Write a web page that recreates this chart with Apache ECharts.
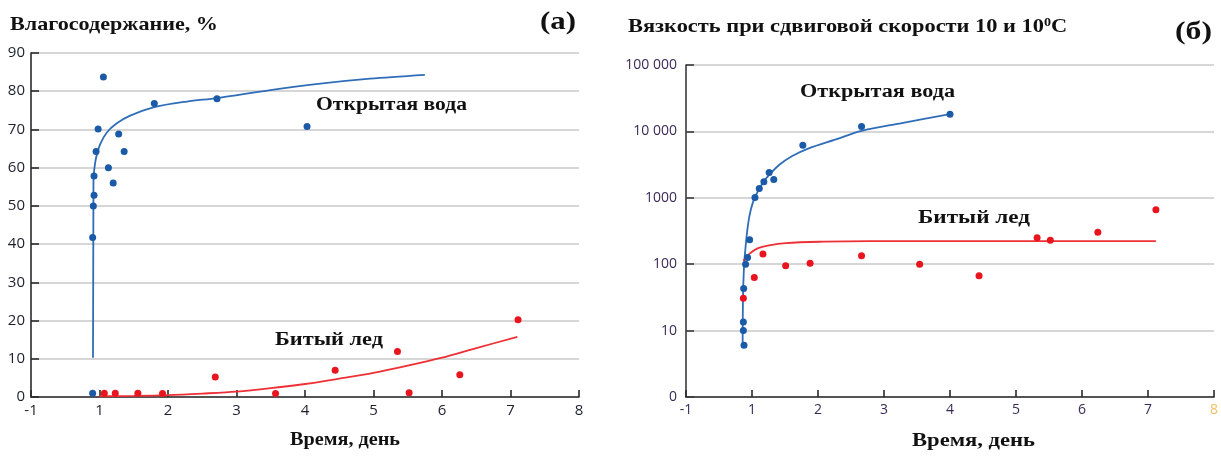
<!DOCTYPE html>
<html>
<head>
<meta charset="utf-8">
<script src="https://cdn.jsdelivr.net/npm/echarts@6/dist/echarts.min.js"></script>
<style>
  html, body { margin: 0; padding: 0; background: #fff; }
  #chart { width: 1221px; height: 456px; }
</style>
</head>
<body>
<div id="chart"></div>
<script>
// Panel (а): moisture content, %, versus time, days
const waterMoisture = [
  [0.90, 1.0], [0.90, 41.7], [0.91, 50.0], [0.92, 52.8], [0.92, 57.8], [0.95, 64.2],
  [0.98, 70.1], [1.057, 83.7], [1.13, 60.0], [1.20, 56.0], [1.28, 68.8], [1.36, 64.2],
  [1.80, 76.8], [2.715, 78.0], [4.03, 70.8]
];
const iceMoisture = [
  [1.07, 1.0], [1.23, 1.0], [1.56, 1.0], [1.92, 0.9], [2.69, 5.2], [3.57, 0.9],
  [4.44, 7.0], [5.35, 11.9], [5.52, 1.1], [6.26, 5.8], [7.11, 20.2]
];
const waterMoistureTrend = [
  [0.905, 10.3], [0.908, 30], [0.911, 50], [0.912, 56.5], [0.921, 59.1], [0.950, 62.6],
  [1.009, 66.1], [1.107, 69.2], [1.253, 71.6], [1.447, 73.6], [1.788, 75.8],
  [2.276, 77.3], [2.715, 78.2], [3.494, 80.3], [4.225, 82.0], [4.95, 83.3], [5.75, 84.3]
];
const iceMoistureTrend = [
  [1.0, 0.2], [1.5, 0.3], [2.0, 0.5], [2.5, 0.9], [3.0, 1.4], [3.5, 2.3], [4.0, 3.4],
  [4.5, 4.8], [5.0, 6.3], [5.5, 8.2], [6.0, 10.3], [6.5, 12.8], [7.1, 15.7]
];

// Panel (б): viscosity at shear rate 10 and 10 °C versus time, days
const waterViscosity = [
  [0.879, 6.0], [0.869, 10], [0.869, 13.5], [0.874, 43], [0.903, 100], [0.933, 126],
  [0.964, 234], [1.045, 1010], [1.11, 1380], [1.18, 1740], [1.26, 2400], [1.33, 1880],
  [1.77, 6170], [2.66, 11900], [4.0, 18200]
];
const iceViscosity = [
  [0.869, 30.6], [1.035, 63], [1.166, 143], [1.51, 95], [1.88, 103], [2.66, 134],
  [3.54, 100], [4.44, 67], [5.32, 251], [5.52, 229], [6.24, 302], [7.12, 660]
];
const waterViscosityTrend = [
  [0.858, 5.8], [0.863, 29], [0.879, 93], [0.899, 165], [0.924, 296], [0.96, 525],
  [1.01, 832], [1.075, 1175], [1.16, 1660], [1.26, 2213], [1.41, 3126], [1.61, 4266],
  [1.86, 5559], [2.27, 7586], [2.66, 10200], [3.27, 13335], [4.0, 18200]
];
const iceViscosityTrend = [
  [0.869, 113], [0.96, 143], [1.085, 173], [1.26, 192], [1.51, 208], [2.02, 218],
  [2.78, 222], [4.29, 223], [5.7, 223], [7.12, 222]
];

// Tick labels
const timeTickLabels = ['-1', '1', '2', '3', '4', '5', '6', '7', '8'];
const viscosityTickLabels = { 1: '0', 10: '10', 100: '100', 1000: '1000', 10000: '10 000', 100000: '100 000' };

const BLUE_PT = '#1a5aa6';
const BLUE_LN = '#2f6db8';
const RED_PT = '#e8151f';
const RED_LN = '#ee3036';
const SERIF = '"Liberation Serif", "DejaVu Serif", serif';
const SANS = '"Open Sans", "Noto Sans", sans-serif';

const chart = echarts.init(document.getElementById('chart'), null, { renderer: 'canvas' });

// bold serif caption stretched to the given width
const measureCtx = document.createElement('canvas').getContext('2d');
function caption(text, x, y, width, size, rich) {
  const font = 'bold ' + size + 'px ' + SERIF;
  measureCtx.font = font;
  const plain = text.replace(/\{sup\|([^}]*)\}/g, '');
  let w = measureCtx.measureText(plain).width;
  if (rich) w += size * 0.35;
  const style = { text, font, fill: '#111', align: 'left', verticalAlign: 'middle' };
  if (rich) style.rich = rich;
  return { type: 'text', x, y, scaleX: width / w, style, z: 10 };
}

function timeAxis(gridIndex, fontSize, color) {
  return {
    type: 'value', gridIndex, min: 0, max: 8, interval: 1,
    axisLine: { show: true, onZero: false, lineStyle: { color: '#2a2a2a', width: 1.6 } },
    axisTick: { show: true, inside: true, length: 7, lineStyle: { color: '#2a2a2a', width: 1.6 } },
    axisLabel: {
      margin: 6, fontFamily: SANS, fontSize,
      color: (v) => (gridIndex === 1 && Number(v) === 8 ? '#f0c060' : color),
      formatter: (v) => timeTickLabels[v]
    },
    splitLine: { show: false }
  };
}

const option = {
  animation: false,
  backgroundColor: '#ffffff',
  grid: [
    { left: 31, top: 53, width: 548, height: 344 },
    { left: 686, top: 65, width: 531, height: 332 }
  ],
  xAxis: [timeAxis(0, 15, '#1e1e2e'), timeAxis(1, 14, '#3b2a58')],
  yAxis: [
    {
      type: 'value', gridIndex: 0, min: 0, max: 90, interval: 10,
      axisLine: { show: true, lineStyle: { color: '#2a2a2a', width: 1.6 } },
      axisTick: { show: true, inside: true, length: 8, lineStyle: { color: '#2a2a2a', width: 1.6 } },
      axisLabel: { margin: 6, fontFamily: SANS, fontSize: 15, color: '#1e1e2e' },
      splitLine: { show: true, lineStyle: { color: '#c9c9c9', width: 1.6 } }
    },
    {
      type: 'log', gridIndex: 1, logBase: 10, min: 1, max: 100000,
      axisLine: { show: true, lineStyle: { color: '#3a3a3a', width: 1.6 } },
      axisTick: { show: true, inside: true, length: 8, lineStyle: { color: '#3a3a3a', width: 1.6 } },
      axisLabel: {
        margin: 9, fontFamily: SANS, fontSize: 14, color: '#3b2a58',
        formatter: (v) => viscosityTickLabels[Math.round(v)] || ''
      },
      splitLine: { show: true, lineStyle: { color: '#c9c9c9', width: 1.6 } }
    }
  ],
  series: [
    {
      type: 'line', xAxisIndex: 0, yAxisIndex: 0, data: waterMoistureTrend,
      showSymbol: false, smooth: 0.3,
      lineStyle: { color: BLUE_LN, width: 1.8 }, z: 2
    },
    {
      type: 'line', xAxisIndex: 0, yAxisIndex: 0, data: iceMoistureTrend,
      showSymbol: false, smooth: 0.3,
      lineStyle: { color: RED_LN, width: 1.8 }, z: 2
    },
    {
      type: 'scatter', xAxisIndex: 0, yAxisIndex: 0, data: waterMoisture,
      symbolSize: 7, itemStyle: { color: BLUE_PT, opacity: 1 }, z: 3
    },
    {
      type: 'scatter', xAxisIndex: 0, yAxisIndex: 0, data: iceMoisture,
      symbolSize: 7, itemStyle: { color: RED_PT, opacity: 1 }, z: 3
    },
    {
      type: 'line', xAxisIndex: 1, yAxisIndex: 1, data: waterViscosityTrend,
      showSymbol: false, smooth: 0.3,
      lineStyle: { color: BLUE_LN, width: 1.8 }, z: 2
    },
    {
      type: 'line', xAxisIndex: 1, yAxisIndex: 1, data: iceViscosityTrend,
      showSymbol: false, smooth: 0.3,
      lineStyle: { color: RED_LN, width: 1.8 }, z: 2
    },
    {
      type: 'scatter', xAxisIndex: 1, yAxisIndex: 1, data: waterViscosity,
      symbolSize: 7, itemStyle: { color: BLUE_PT, opacity: 1 }, z: 3
    },
    {
      type: 'scatter', xAxisIndex: 1, yAxisIndex: 1, data: iceViscosity,
      symbolSize: 7, itemStyle: { color: RED_PT, opacity: 1 }, z: 3
    }
  ],
  graphic: [
    // panel titles
    caption('Влагосодержание, %', 10, 25, 208, 19),
    caption('(а)', 540, 22, 36, 26),
    caption('Вязкость при сдвиговой скорости 10 и 10{sup|0}С', 628, 27, 440, 19,
      { sup: { font: 'bold 12px ' + SERIF, fill: '#111', verticalAlign: 'top', padding: [0, 0, 9, 0] } }),
    caption('(б)', 1175, 32, 37, 26),
    // axis names
    caption('Время, день', 290, 440, 110, 19),
    caption('Время, день', 912, 441, 123, 19),
    // series captions
    caption('Открытая вода', 316, 105, 151, 18),
    caption('Битый лед', 275, 340, 108, 18),
    caption('Открытая вода', 800, 92, 155, 18),
    caption('Битый лед', 918, 218, 112, 18)
  ]
};

chart.setOption(option);
</script>
</body>
</html>
